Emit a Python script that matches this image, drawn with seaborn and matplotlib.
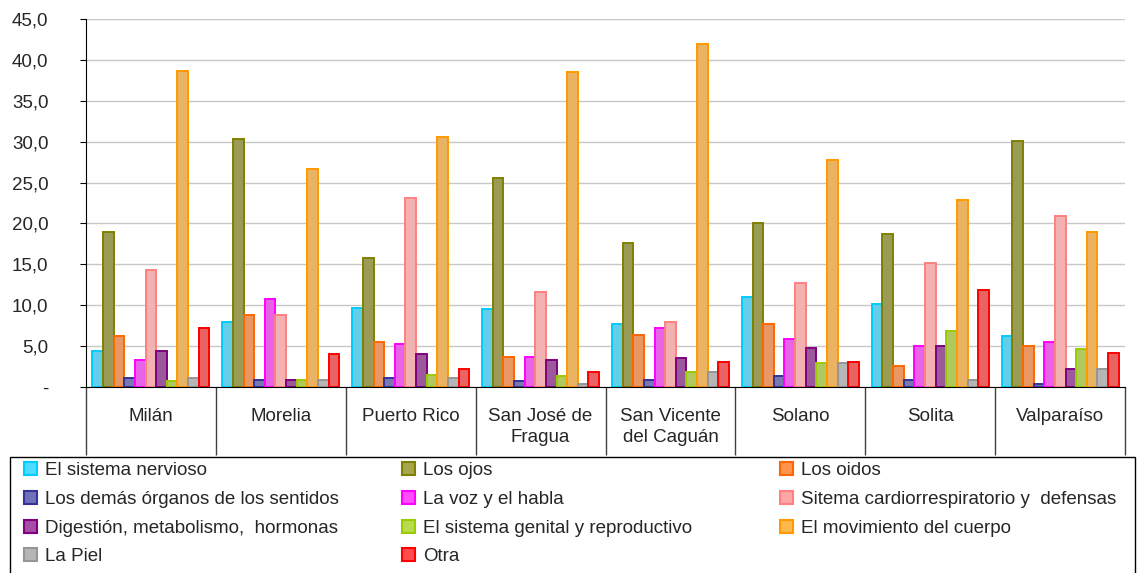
import pandas as pd
import matplotlib.pyplot as plt
import matplotlib.colors as mcolors
from matplotlib.patches import Rectangle, Patch
from matplotlib.ticker import FixedLocator, FuncFormatter
import seaborn as sns

# Categories (municipios) and series (affected body part)
municipios = ['Milán', 'Morelia', 'Puerto Rico', 'San José de\nFragua',
              'San Vicente\ndel Caguán', 'Solano', 'Solita', 'Valparaíso']
series = ['El sistema nervioso', 'Los ojos', 'Los oidos',
          'Los demás órganos de los sentidos', 'La voz y el habla',
          'Sitema cardiorrespiratorio y  defensas',
          'Digestión, metabolismo,  hormonas', 'El sistema genital y reproductivo',
          'El movimiento del cuerpo', 'La Piel', 'Otra']

sistema_nervioso = [4.4, 7.9, 9.7, 9.5, 7.7, 11.0, 10.1, 6.2]
ojos = [18.9, 30.3, 15.8, 25.5, 17.6, 20.1, 18.7, 30.1]
oidos = [6.2, 8.8, 5.5, 3.7, 6.4, 7.7, 2.6, 5.0]
demas_organos = [1.1, 0.9, 1.1, 0.7, 0.9, 1.3, 0.9, 0.4]
voz_habla = [3.3, 10.8, 5.3, 3.7, 7.2, 5.9, 5.0, 5.5]
cardiorrespiratorio = [14.3, 8.8, 23.1, 11.6, 7.9, 12.7, 15.2, 20.9]
digestion = [4.4, 0.9, 4.0, 3.3, 3.5, 4.8, 5.0, 2.2]
genital = [0.7, 0.9, 1.5, 1.3, 1.8, 2.9, 6.8, 4.6]
movimiento = [38.7, 26.6, 30.6, 38.5, 42.0, 27.7, 22.9, 19.0]
piel = [1.1, 0.9, 1.1, 0.4, 1.8, 2.9, 0.9, 2.2]
otra = [7.2, 4.0, 2.2, 1.8, 3.1, 3.1, 11.9, 4.2]

valores = [sistema_nervioso, ojos, oidos, demas_organos, voz_habla,
           cardiorrespiratorio, digestion, genital, movimiento, piel, otra]

colores = ['#00CCFF', '#808000', '#FF6600', '#333399', '#FF00FF', '#FF8080',
           '#800080', '#99CC00', '#FF9900', '#969696', '#FF0000']

rows = []
for s, vals in zip(series, valores):
    for m, v in zip(municipios, vals):
        rows.append({'Municipio': m, 'Parte': s, 'Porcentaje': v})
df = pd.DataFrame(rows)


def aclarar(c, f=0.3):
    r, g, b = mcolors.to_rgb(c)
    return (r + (1 - r) * f, g + (1 - g) * f, b + (1 - b) * f)


relleno = [aclarar(c) for c in colores]

sns.set_style('white')
plt.rcParams['font.family'] = ['Liberation Sans', 'DejaVu Sans']
FS = 13.5

fig = plt.figure(figsize=(11.4, 5.73), dpi=100)
ax = fig.add_axes([0.0754, 0.3246, 0.9116, 0.6422])

sns.barplot(data=df, x='Municipio', y='Porcentaje', hue='Parte',
            order=municipios, hue_order=series, palette=relleno,
            width=0.9, ax=ax, legend=False)

# darker outlines on each series
for cont, c in zip(ax.containers, colores):
    for bar in cont:
        bar.set_edgecolor(c)
        bar.set_linewidth(1.4)

ax.set_ylim(0, 45)
ax.set_xlim(-0.5, 7.5)
ax.set_yticks(range(0, 46, 5))
ax.yaxis.set_major_formatter(FuncFormatter(
    lambda v, p: '-' if v == 0 else f'{v:.1f}'.replace('.', ',')))
ax.yaxis.grid(True, color='#c8c8c8', linewidth=1)
ax.set_axisbelow(True)
ax.set_xlabel('')
ax.set_ylabel('')

for side in ['top', 'right']:
    ax.spines[side].set_visible(False)
ax.spines['left'].set_color('black')
ax.spines['bottom'].set_color('black')

ax.tick_params(axis='y', which='major', left=True, length=4, color='black',
               labelsize=FS, pad=23)
ax.tick_params(axis='x', which='major', length=0, labelsize=FS, pad=15)
for t in ax.get_xticklabels():
    t.set_linespacing(1.3)

# separators between categories
ax.xaxis.set_minor_locator(FixedLocator([i - 0.5 for i in range(9)]))
ax.tick_params(axis='x', which='minor', bottom=True, length=49,
               color='#404040', width=1)

handles = [Patch(facecolor=f, edgecolor=c, linewidth=1.5)
           for f, c in zip(relleno, colores)]

# legend frame (bottom edge runs off the figure)
fig.patches.append(Rectangle((10 / 1140, -0.01), 1125 / 1140, 1 - 457 / 573 + 0.01,
                             transform=fig.transFigure, fill=False,
                             edgecolor='black', linewidth=1))

# three legend columns, filled row by row
col_x = [24, 402, 780]
for j, x in enumerate(col_x):
    idx = list(range(j, len(series), 3))
    fig.legend([handles[i] for i in idx], [series[i] for i in idx],
               loc='upper left', bbox_to_anchor=(x / 1140, 1 - 462 / 573),
               frameon=False, fontsize=FS, handlelength=0.7, handleheight=0.7,
               handletextpad=0.4, labelspacing=0.62, borderpad=0,
               borderaxespad=0)

fig.savefig('out.png', dpi=100)
